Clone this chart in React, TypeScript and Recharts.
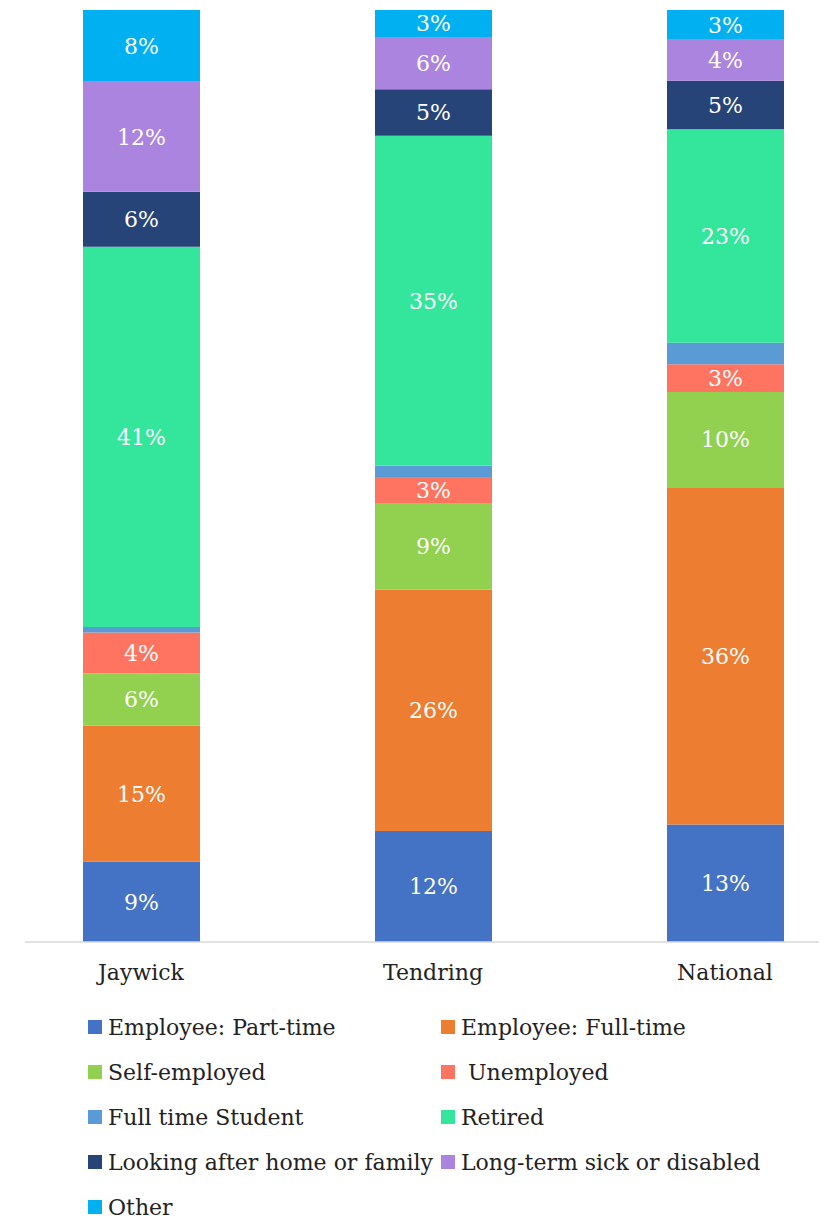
import React from 'react';
import { BarChart, Bar, XAxis, YAxis, Legend, LabelList } from 'recharts';

const categories = ['Jaywick', 'Tendring', 'National'];

const partTime = [8.6, 11.9, 12.6];
const fullTime = [14.6, 25.9, 36.2];
const selfEmployed = [5.6, 9.3, 10.2];
const unemployed = [4.4, 2.8, 3.0];
const student = [0.6, 1.2, 2.3];
const retired = [40.8, 35.4, 22.9];
const lookingAfter = [5.9, 5.0, 5.2];
const longTermSick = [11.8, 5.6, 4.4];
const other = [7.7, 2.9, 3.2];

const series = [
  { key: 'partTime', name: 'Employee: Part-time', values: partTime, color: '#4472c4' },
  { key: 'fullTime', name: 'Employee: Full-time', values: fullTime, color: '#ed7d31' },
  { key: 'selfEmployed', name: 'Self-employed', values: selfEmployed, color: '#92d050' },
  { key: 'unemployed', name: ' Unemployed', values: unemployed, color: '#ff7461' },
  { key: 'student', name: 'Full time Student', values: student, color: '#5b9bd5' },
  { key: 'retired', name: 'Retired', values: retired, color: '#33e69b' },
  { key: 'lookingAfter', name: 'Looking after home or family', values: lookingAfter, color: '#264478' },
  { key: 'longTermSick', name: 'Long-term sick or disabled', values: longTermSick, color: '#ab84e0' },
  { key: 'other', name: 'Other', values: other, color: '#00b0f0' },
];

const data = categories.map((name, i) => {
  const row: Record<string, string | number> = { name };
  series.forEach((s) => {
    row[s.key] = s.values[i];
  });
  return row;
});

const FONT = '"DejaVu Serif", serif';

const LegendGrid = () => (
  <div style={{ position: 'relative', height: 218, fontFamily: FONT, fontSize: 22, color: '#222' }}>
    {series.map((s, i) => {
      const col = i % 2;
      const row = Math.floor(i / 2);
      return (
        <div
          key={s.key}
          style={{
            position: 'absolute',
            left: col === 0 ? 80 : 433,
            top: 25 + row * 45 - 14,
            height: 28,
            display: 'flex',
            alignItems: 'center',
            whiteSpace: 'pre',
          }}
        >
          <span style={{ display: 'inline-block', width: 14, height: 14, background: s.color, marginRight: 6 }} />
          <span>{s.name}</span>
        </div>
      );
    })}
  </div>
);

export default function App() {
  return (
    <div style={{ fontFamily: FONT }}>
      <BarChart
        width={819}
        height={1212}
        data={data}
        margin={{ top: 2, right: 0, bottom: 0, left: 17 }}
        barSize={117}
      >
        <XAxis
          dataKey="name"
          axisLine={{ stroke: '#d9d9d9', strokeWidth: 1.5 }}
          tickLine={false}
          tick={{ fill: '#222', fontSize: 22, fontFamily: FONT }}
          tickMargin={16}
          height={60}
          padding={{ left: -30, right: -44 }}
        />
        <YAxis hide domain={[0, 100]} />
        <Legend verticalAlign="bottom" height={218} content={<LegendGrid />} wrapperStyle={{ left: 0, width: 819 }} />
        {series.map((s) => (
          <Bar key={s.key} dataKey={s.key} name={s.name} stackId="a" fill={s.color} isAnimationActive={false}>
            <LabelList
              dataKey={s.key}
              position="center"
              fill="#ffffff"
              fontSize={22}
              fontFamily={FONT}
              formatter={(v: number) => (v >= 2.5 ? `${Math.round(v)}%` : '')}
            />
          </Bar>
        ))}
      </BarChart>
    </div>
  );
}
